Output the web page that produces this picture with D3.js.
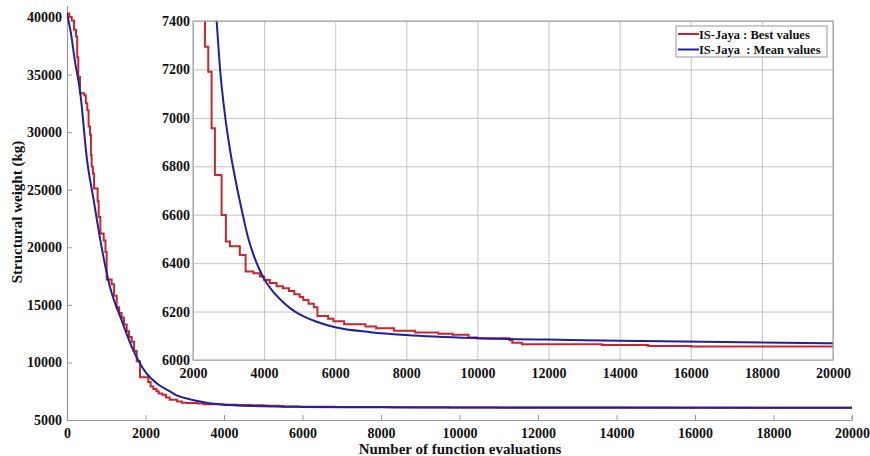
<!DOCTYPE html>
<html>
<head>
<meta charset="utf-8">
<script src="https://cdn.jsdelivr.net/npm/d3@7"></script>
<style>
  body { margin: 0; background: #fff; }
  text { font-family: "Liberation Serif", "Times New Roman", serif; font-weight: bold; fill: #111; }
</style>
</head>
<body>
<script>
// evaluations at which the best value steps down, and the value after the step
const bestEvals = [0, 60, 120, 178, 229, 260, 288, 331, 440, 480, 517, 550, 586, 610, 628, 660, 690, 780, 807, 850, 935, 980, 1011, 1139, 1200, 1266, 1330, 1393, 1450, 1521, 1580, 1648, 1710, 1776, 1860, 2071, 2130, 2200, 2280,
  2336, 2429, 2523, 2616, 2804, 2925, 3040, 3317, 3480, 3700, 3880, 4000, 4160, 4350, 4530, 4700, 4850, 5000, 5100, 5250, 5400, 5500, 5800, 5950, 6250, 6850, 7150, 7650, 8250, 8900, 9300, 9750, 10000, 10900, 10980, 11250, 13500, 14800, 16000, 20000];
const bestValues = [40300, 40000, 39700, 38900, 38300, 36500, 34800, 33370, 33200, 32500, 31900, 30500, 29800, 28000, 27000, 26400, 25100, 24000, 22640, 21200, 20600, 19600, 17200, 16800, 15800, 14800, 14300, 13900, 13300, 12700, 12200, 11800, 11000, 10100, 8720, 8300, 7900, 7700, 7500,
  7294, 7190, 6957, 6764, 6599, 6489, 6470, 6434, 6365, 6358, 6345, 6330, 6318, 6305, 6296, 6285, 6272, 6260, 6248, 6232, 6218, 6182, 6170, 6160, 6148, 6138, 6131, 6121, 6114, 6108, 6104, 6093, 6090, 6082, 6071, 6065, 6062, 6058, 6056, 6055];

const meanEvals = [0, 100, 196, 339, 510, 680, 840, 1096, 1393, 1690, 2030, 2300, 2663, 2756, 2900, 3050, 3200, 3400, 3550, 3700, 3850, 4000, 4250, 4500, 4750, 5000, 5500, 6000, 7000, 8000, 10000, 12560, 14000, 20000];
const meanValues = [40300, 38600, 36300, 33400, 27600, 24100, 20800, 16550, 13650, 11040, 9020, 8150, 7404, 7210, 7010, 6860, 6740, 6600, 6505, 6435, 6380, 6335, 6282, 6244, 6212, 6188, 6157, 6135, 6115, 6103, 6090, 6083, 6080, 6069];

const mainXTicks = d3.range(0, 20001, 2000);
const mainYTicks = d3.range(5000, 40001, 5000);
const insetXTicks = d3.range(2000, 20001, 2000);
const insetYTicks = d3.range(6000, 7401, 200);

const seriesNames = ['IS-Jaya : Best values', 'IS-Jaya\u00a0 : Mean values'];
const seriesColors = ['#c8262c', '#1f1fa0'];

const width = 870, height = 456;
const best = bestEvals.map((x, i) => ({x: x, y: bestValues[i]}));
const mean = meanEvals.map((x, i) => ({x: x, y: meanValues[i]}));

const svg = d3.select('body').append('svg')
  .attr('width', width)
  .attr('height', height);

// ---- main axes
const x = d3.scaleLinear().domain([0, 20000]).range([67, 852]);
const y = d3.scaleLinear().domain([5000, 41000]).range([420, 5.5]);

svg.append('clipPath').attr('id', 'clipMain')
  .append('rect').attr('x', 67).attr('y', 5).attr('width', 785).attr('height', 415);

const gx = svg.append('g')
  .attr('transform', 'translate(0,420)')
  .call(d3.axisBottom(x).tickValues(mainXTicks).tickFormat(d3.format('d')).tickSizeInner(-5).tickSizeOuter(0).tickPadding(8));
const gy = svg.append('g')
  .attr('transform', 'translate(67,0)')
  .call(d3.axisLeft(y).tickValues(mainYTicks).tickFormat(d3.format('d')).tickSizeInner(-5).tickSizeOuter(0).tickPadding(5));

[gx, gy].forEach(g => {
  g.select('.domain').attr('stroke', '#999').attr('stroke-width', 1.2);
  g.selectAll('.tick line').attr('stroke', '#999');
  g.selectAll('.tick text').style('font-size', '14px').attr('fill', '#111');
});
// right-end tick on the x axis
gx.append('line').attr('x1', 852).attr('x2', 852).attr('y1', 0).attr('y2', -5).attr('stroke', '#999');

const lineMainBest = d3.line().x(d => x(d.x)).y(d => y(d.y)).curve(d3.curveStepAfter);
const lineMainMean = d3.line().x(d => x(d.x)).y(d => y(d.y)).curve(d3.curveMonotoneX);

svg.append('path').datum(best)
  .attr('clip-path', 'url(#clipMain)')
  .attr('d', lineMainBest)
  .attr('fill', 'none').attr('stroke', seriesColors[0]).attr('stroke-width', 2);
svg.append('path').datum(mean)
  .attr('clip-path', 'url(#clipMain)')
  .attr('d', lineMainMean)
  .attr('fill', 'none').attr('stroke', seriesColors[1]).attr('stroke-width', 2);

svg.append('text')
  .attr('x', 460).attr('y', 454)
  .attr('text-anchor', 'middle')
  .style('font-size', '15px')
  .text('Number of function evaluations');
svg.append('text')
  .attr('transform', 'translate(22,212) rotate(-90)')
  .attr('text-anchor', 'middle')
  .style('font-size', '15px')
  .text('Structural weight (kg)');

// ---- inset
const ix = d3.scaleLinear().domain([2000, 20000]).range([193, 833]);
const iy = d3.scaleLinear().domain([6000, 7400]).range([360, 21]);
const iw = 833 - 193, ih = 360 - 21;

svg.append('rect')
  .attr('x', 193).attr('y', 21).attr('width', iw).attr('height', ih)
  .attr('fill', '#fff');

const igx = svg.append('g')
  .attr('transform', 'translate(0,360)')
  .call(d3.axisBottom(ix).tickValues(insetXTicks).tickFormat(d3.format('d')).tickSizeInner(-ih).tickSizeOuter(0).tickPadding(8));
const igy = svg.append('g')
  .attr('transform', 'translate(193,0)')
  .call(d3.axisLeft(iy).tickValues(insetYTicks).tickFormat(d3.format('d')).tickSizeInner(-iw).tickSizeOuter(0).tickPadding(3));

[igx, igy].forEach(g => {
  g.select('.domain').remove();
  g.selectAll('.tick line').attr('stroke', '#c4c4c4').attr('stroke-width', 1);
  g.selectAll('.tick text').style('font-size', '14px').attr('fill', '#111');
});

svg.append('clipPath').attr('id', 'clipInset')
  .append('rect').attr('x', 193).attr('y', 21).attr('width', iw).attr('height', ih);

const lineInsetBest = d3.line().x(d => ix(d.x)).y(d => iy(d.y)).curve(d3.curveStepAfter);
const lineInsetMean = d3.line().x(d => ix(d.x)).y(d => iy(d.y)).curve(d3.curveMonotoneX);

svg.append('path').datum(best)
  .attr('clip-path', 'url(#clipInset)')
  .attr('d', lineInsetBest)
  .attr('fill', 'none').attr('stroke', seriesColors[0]).attr('stroke-width', 2);
svg.append('path').datum(mean)
  .attr('clip-path', 'url(#clipInset)')
  .attr('d', lineInsetMean)
  .attr('fill', 'none').attr('stroke', seriesColors[1]).attr('stroke-width', 2);

svg.append('rect')
  .attr('x', 193).attr('y', 21).attr('width', iw).attr('height', ih)
  .attr('fill', 'none').attr('stroke', '#999').attr('stroke-width', 1);

// ---- legend
const legend = svg.append('g').attr('transform', 'translate(676,26)');
legend.append('rect')
  .attr('width', 151).attr('height', 31)
  .attr('fill', '#fff').attr('stroke', '#999');
seriesNames.forEach((name, i) => {
  const row = legend.append('g').attr('transform', `translate(0,${8 + i * 15.5})`);
  row.append('line').attr('x1', 2).attr('x2', 23).attr('y1', 0).attr('y2', 0)
    .attr('stroke', seriesColors[i]).attr('stroke-width', 2);
  row.append('text').attr('x', 23).attr('y', 4.5)
    .style('font-size', '12.5px')
    .text(name);
});
</script>
</body>
</html>
